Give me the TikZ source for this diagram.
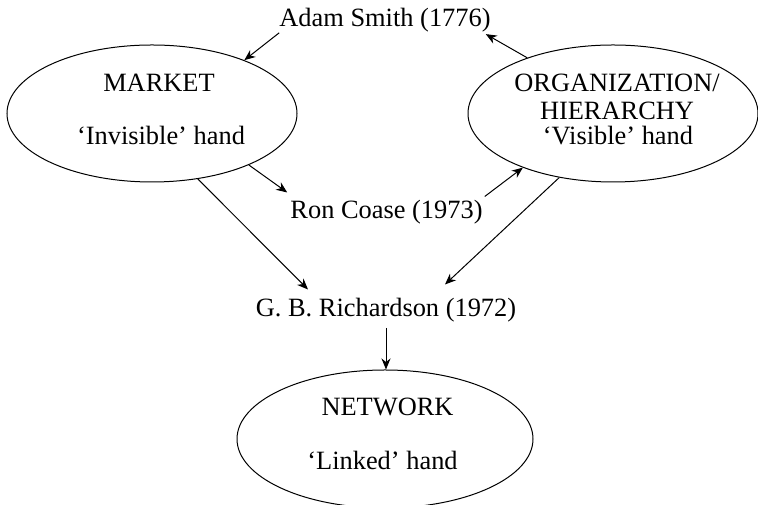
\documentclass[tikz,border=0pt]{standalone}
\usepackage{fontspec}
\setmainfont{Liberation Serif}
\usetikzlibrary{shapes.geometric,arrows.meta,calc}
\begin{document}
\begin{tikzpicture}[x=1pt,y=1pt,
  ell/.style={ellipse,draw,line width=1pt,inner sep=0pt},
  txt/.style={inner sep=0pt,font=\fontsize{26.4}{27}\selectfont,anchor=base},
  arr/.style={line width=1pt,-{Stealth[length=11pt,width=9pt,inset=3.5pt]}}]
\useasboundingbox (0,0) rectangle (758,505);
\begin{scope}
\clip (0,0) rectangle (758,505);
\node[ell,minimum width=290pt,minimum height=137pt] (mkt) at (152,391.5) {};
\node[ell,minimum width=290pt,minimum height=137pt] (org) at (613,391.5) {};
\node[ell,minimum width=296pt,minimum height=138pt] (net) at (385,66) {};
\end{scope}
\node[txt] (mkt1) at (159,413) {MARKET};
\node[txt] (mkt2) at (161,360) {‘Invisible’ hand};
\node[txt] (org1) at (617,413.3) {ORGANIZATION/};
\node[txt] (org2) at (617,385.7) {HIERARCHY};
\node[txt] (org3) at (618,360) {‘Visible’ hand};
\node[txt] (net1) at (387.5,89) {NETWORK};
\node[txt] (net2) at (382.5,35) {‘Linked’ hand};
\node[txt] (adam) at (385,478) {Adam Smith (1776)};
\node[txt] (ron) at (386.5,286) {Ron Coase (1973)};
\node[txt] (rich) at (386,188) {G. B. Richardson (1972)};
\draw[arr] (adam.south west) -- (mkt.30.5);
\draw[arr] (org.147.8) -- ($(adam.south east)+(-5,-1.3)$);
\draw[arr] (mkt.-28.6) -- ($(ron.north west)+(-3,8)$);
\draw[arr] ($(ron.north east)+(2,4)$) -- (org.211.8);
\draw[arr] (mkt.-55.9) -- ($(rich.north)+(-78,9)$);
\draw[arr] (org.230.2) -- ($(rich.north)+(59,14)$);
\draw[arr] ($(rich.south)+(0,-5)$) -- (rich.south |- net.north);
\end{tikzpicture}
\end{document}
